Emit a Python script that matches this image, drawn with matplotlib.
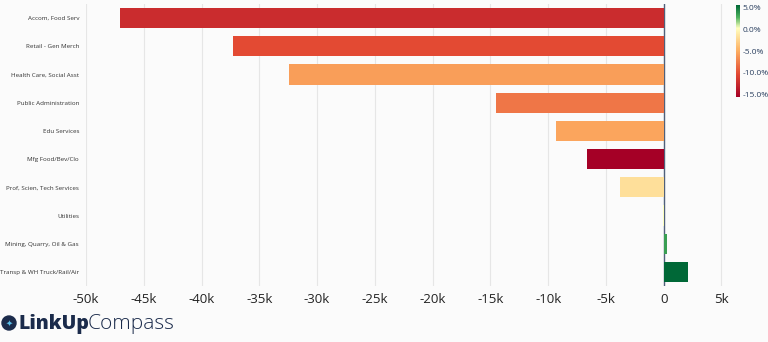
import matplotlib.pyplot as plt
import matplotlib.colors as mcolors
import matplotlib.patches as mpatches
import numpy as np

sectors = ["Accom, Food Serv", "Retail - Gen Merch", "Health Care, Social Asst",
           "Public Administration", "Edu Services", "Mfg Food/Bev/Clo",
           "Prof, Scien, Tech Services", "Utilities", "Mining, Quarry, Oil & Gas",
           "Transp & WH Truck/Rail/Air"]
change = [-47100, -37300, -32400, -14500, -9300, -6600, -3800, -100, 320, 2100]
pct_change = [-12.0, -10.0, -5.8, -7.8, -5.4, -15.0, -2.0, 0.0, 3.0, 5.0]

xticks = [-50000, -45000, -40000, -35000, -30000, -25000, -20000, -15000, -10000, -5000, 0, 5000]
xticklabels = ["-50k", "-45k", "-40k", "-35k", "-30k", "-25k", "-20k", "-15k", "-10k", "-5k", "0", "5k"]
cbar_ticks = [5, 0, -5, -10, -15]

plt.rcParams['font.family'] = ['Open Sans', 'DejaVu Sans']
bg = "#fbfbfb"

# red-yellow-green scale with yellow sitting at 0%
cmap = mcolors.LinearSegmentedColormap.from_list("rdylgn", [
    (0.0, "#a50026"), (0.25, "#e34a33"), (0.5, "#fdae61"),
    (0.75, "#ffffbf"), (0.87, "#4bb05c"), (1.0, "#006837")])
norm = mcolors.Normalize(vmin=-15, vmax=5)

fig = plt.figure(figsize=(7.68, 3.42), dpi=100, facecolor=bg)
ax = fig.add_axes([86/768, 1 - 286/342, (733 - 86)/768, 282/342])
ax.set_facecolor(bg)

y = np.arange(len(sectors))
ax.axvline(0, color="#50607a", linewidth=1, zorder=2)
ax.barh(y, change, height=0.72, color=cmap(norm(np.array(pct_change))),
        linewidth=0, zorder=3)

ax.set_ylim(len(sectors) - 0.5, -0.5)
ax.set_xlim(-50000, 6000)
ax.set_yticks(y)
ax.set_yticklabels(sectors, fontsize=4.5, color="#333333")
ax.set_xticks(xticks)
ax.set_xticklabels(xticklabels, fontsize=9.5, color="#222222")
ax.tick_params(length=0, pad=5)
ax.tick_params(axis='y', pad=5)
ax.grid(axis='x', color="#e6e6e6", linewidth=0.8, zorder=0)
for s in ax.spines.values():
    s.set_visible(False)

# colorbar
cax = fig.add_axes([736/768, 1 - 97/342, 4/768, 92/342])
cb = fig.colorbar(plt.cm.ScalarMappable(norm=mcolors.Normalize(-15.6, 5.6), cmap=cmap), cax=cax)
cb.outline.set_visible(False)
cb.set_ticks(cbar_ticks)
cb.set_ticklabels([f"{t:.1f}%" for t in cbar_ticks])
cax.tick_params(length=0, labelsize=6, labelcolor="#2a3f5f", pad=2)

# logo
fig.patches.append(mpatches.Ellipse((9/768, 1 - 323/342), 14/768, 14/342,
                                    transform=fig.transFigure, color="#1b2b4b", zorder=5))
fig.text(9/768, 1 - 323/342, "✦", fontsize=6, color="#5bc0eb", ha="center", va="center",
         family="DejaVu Sans", zorder=6)
fig.text(19/768, 1 - 324/342, "LinkUp", fontsize=14, fontweight="heavy", color="#1b2b4b",
         va="center", ha="left")
fig.text(88/768, 1 - 324/342, "Compass", fontsize=15, fontweight="light", color="#1b2b4b",
         va="center", ha="left")

fig.savefig("out.png", dpi=100, facecolor=bg)
